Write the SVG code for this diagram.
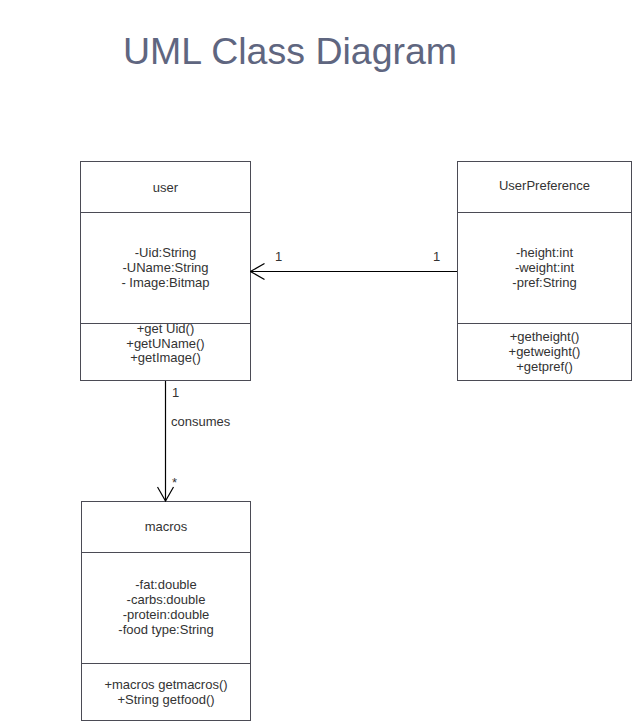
<svg xmlns="http://www.w3.org/2000/svg" width="633" height="723" viewBox="0 0 633 723">
<defs>
<style>
.box{fill:#ffffff;stroke:#4b4b55;stroke-width:1}
.div{stroke:#4b4b55;stroke-width:1}
.t{font-family:"Liberation Sans",Arial,sans-serif;font-size:13px;fill:#333333;text-anchor:middle}
.l{font-family:"Liberation Sans",Arial,sans-serif;font-size:13px;fill:#333333}
.title{font-family:"Liberation Sans",Arial,sans-serif;font-size:37.5px;fill:#5f6680}
.edge{stroke:#000000;stroke-width:1.2;fill:none}
</style>
<marker id="open" viewBox="0 0 16 18" refX="15" refY="9" markerWidth="16" markerHeight="18" markerUnits="userSpaceOnUse" orient="auto">
<path d="M1,1 L15,9 L1,17" fill="none" stroke="#000000" stroke-width="1.2"/>
</marker>
</defs>
<rect width="633" height="723" fill="#ffffff"/>
<text class="title" x="123" y="64">UML Class Diagram</text>

<g id="user">
<rect class="box" x="80.5" y="161.5" width="170" height="219"/>
<line class="div" x1="80.5" y1="212.5" x2="250.5" y2="212.5"/>
<line class="div" x1="80.5" y1="323.5" x2="250.5" y2="323.5"/>
<text class="t" x="165.5" y="191.5">user</text>
<text class="t" x="165.5" y="257">-Uid:String</text>
<text class="t" x="165.5" y="272">-UName:String</text>
<text class="t" x="165.5" y="287">- Image:Bitmap</text>
<text class="t" x="165.5" y="333">+get Uid()</text>
<text class="t" x="165.5" y="347.5">+getUName()</text>
<text class="t" x="165.5" y="362">+getImage()</text>
</g>

<g id="UserPreference">
<rect class="box" x="457.5" y="161.5" width="174" height="219"/>
<line class="div" x1="457.5" y1="212.5" x2="631.5" y2="212.5"/>
<line class="div" x1="457.5" y1="323.5" x2="631.5" y2="323.5"/>
<text class="t" x="544.5" y="190">UserPreference</text>
<text class="t" x="544.5" y="257">-height:int</text>
<text class="t" x="544.5" y="272">-weight:int</text>
<text class="t" x="544.5" y="287">-pref:String</text>
<text class="t" x="544.5" y="341">+getheight()</text>
<text class="t" x="544.5" y="356">+getweight()</text>
<text class="t" x="544.5" y="370.5">+getpref()</text>
</g>

<g id="macros">
<rect class="box" x="81.5" y="501.5" width="169" height="219"/>
<line class="div" x1="81.5" y1="552.5" x2="250.5" y2="552.5"/>
<line class="div" x1="81.5" y1="663.5" x2="250.5" y2="663.5"/>
<text class="t" x="166" y="530.5">macros</text>
<text class="t" x="166" y="589">-fat:double</text>
<text class="t" x="166" y="604">-carbs:double</text>
<text class="t" x="166" y="618.5">-protein:double</text>
<text class="t" x="166" y="633.5">-food type:String</text>
<text class="t" x="166" y="688.5">+macros getmacros()</text>
<text class="t" x="166" y="704">+String getfood()</text>
</g>

<g id="connectors">
<line class="edge" x1="457" y1="271.5" x2="250.5" y2="271.5" marker-end="url(#open)"/>
<text class="l" x="275" y="261">1</text>
<text class="l" x="433" y="261">1</text>
<line class="edge" x1="165.5" y1="381" x2="165.5" y2="501" marker-end="url(#open)"/>
<text class="l" x="172" y="397">1</text>
<text class="l" x="171" y="426">consumes</text>
<text class="l" x="172" y="487">*</text>
</g>
</svg>
